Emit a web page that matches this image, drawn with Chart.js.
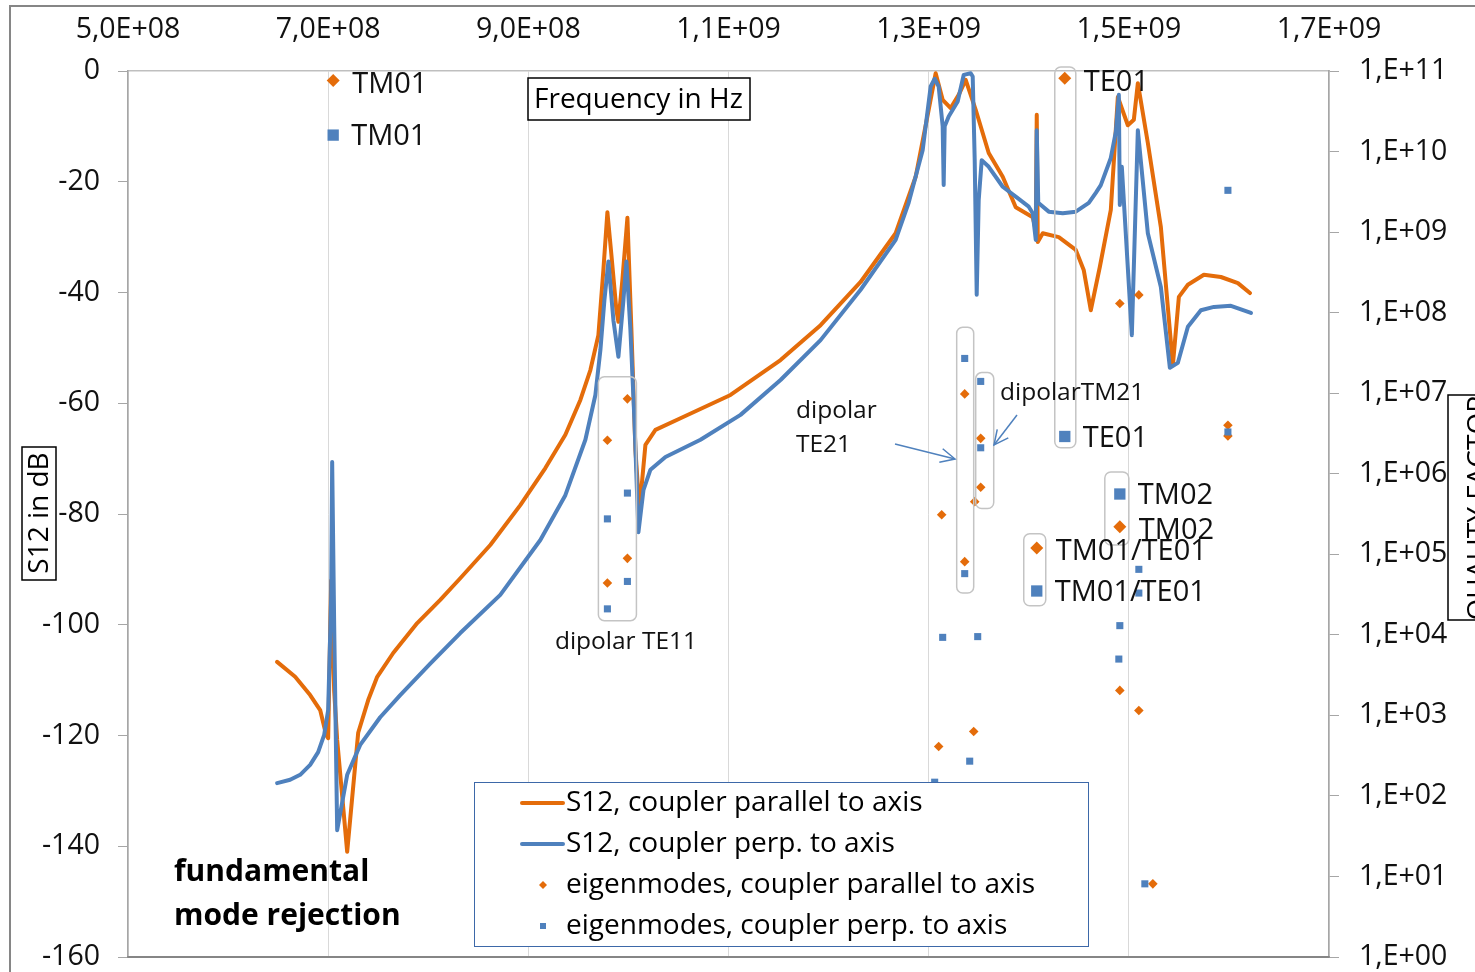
<!DOCTYPE html>
<html><head><meta charset="utf-8">
<script src="https://cdn.jsdelivr.net/npm/chart.js@4.4.0/dist/chart.umd.min.js"></script>
<style>html,body{margin:0;padding:0;background:#fff;overflow:hidden}canvas{display:block}</style>
</head><body>
<canvas id="c" width="1475" height="972" style="width:1475px;height:972px"></canvas>
<script>
// ---------- axis ticks ----------
const xTickValues = [5e8, 7e8, 9e8, 1.1e9, 1.3e9, 1.5e9, 1.7e9];
const xTickLabels = ['5,0E+08', '7,0E+08', '9,0E+08', '1,1E+09', '1,3E+09', '1,5E+09', '1,7E+09'];
const dbTickValues = [0, -20, -40, -60, -80, -100, -120, -140, -160];
const qTickValues = [1e0, 1e1, 1e2, 1e3, 1e4, 1e5, 1e6, 1e7, 1e8, 1e9, 1e10, 1e11];
const qTickLabels = ['1,E+00', '1,E+01', '1,E+02', '1,E+03', '1,E+04', '1,E+05', '1,E+06', '1,E+07', '1,E+08', '1,E+09', '1,E+10', '1,E+11'];

// ---------- S12, coupler parallel to axis (MHz, dB) ----------
const s12ParFreqMHz = [649, 667, 682, 692, 698, 700, 703, 706, 709, 719, 730, 740, 749, 765, 789, 812, 832, 862, 892, 917, 937, 952, 962, 970, 975, 979, 983, 988, 990, 994, 999, 1003, 1007, 1011, 1017, 1027, 1052, 1102, 1152, 1192, 1232, 1267, 1287, 1300, 1307, 1314, 1322, 1330, 1337, 1347, 1360, 1374, 1387, 1404, 1407, 1408, 1409, 1414, 1430, 1447, 1455, 1462, 1471, 1482, 1489, 1499, 1505, 1509, 1519, 1532, 1544, 1550, 1559, 1575, 1592, 1609, 1621];
const s12ParDb = [-106.7, -109.4, -112.7, -115.4, -119.9, -120.5, -92, -112, -120.8, -141.0, -119.5, -113.6, -109.4, -105.1, -99.7, -95.5, -91.6, -85.6, -78.4, -71.7, -65.7, -59.4, -54, -47.7, -35.9, -25.5, -33.2, -43.2, -45.3, -37.7, -26.5, -46.8, -68.4, -79.3, -67.5, -64.8, -62.7, -58.5, -52.2, -45.9, -38.1, -29.3, -19.1, -7, -0.4, -5.2, -6.7, -4.3, -1.6, -7, -14.8, -19.1, -24.6, -26.4, -28.7, -7.9, -30.9, -29.3, -30.0, -32.3, -36, -43.2, -35.4, -25.1, -4.7, -9.8, -8.8, -2.2, -13, -28.2, -53.1, -40.8, -38.6, -36.8, -37.2, -38.3, -40.1];

// ---------- S12, coupler perp. to axis (MHz, dB) ----------
const s12PerpFreqMHz = [649, 662, 672, 682, 690, 696, 700, 703, 704, 706, 709, 719, 732, 752, 772, 802, 832, 872, 912, 937, 957, 967, 972, 976, 980, 985, 990, 995, 998, 1002, 1006, 1010, 1015, 1022, 1037, 1072, 1112, 1152, 1192, 1232, 1267, 1280, 1294, 1302, 1306, 1310, 1314, 1315, 1316, 1320, 1329, 1335, 1342, 1344, 1346, 1348, 1350, 1353, 1360, 1374, 1387, 1400, 1404, 1407, 1408, 1409.5, 1420, 1434, 1447, 1460, 1467, 1472, 1482, 1487, 1490, 1491, 1493, 1503, 1509, 1519, 1532, 1541, 1549, 1559, 1572, 1585, 1602, 1622];
const s12PerpDb = [-128.6, -128.0, -127.1, -125.3, -123.0, -119.9, -115.4, -95, -70.6, -100, -137.1, -127.1, -121.7, -116.7, -112.7, -107.0, -101.5, -94.6, -84.7, -76.6, -66.6, -58.5, -50.4, -41.4, -34.4, -45, -51.6, -41.4, -34.4, -46.8, -63, -83.3, -75.7, -72, -69.7, -66.6, -62.1, -55.8, -48.6, -39.5, -30.5, -23.8, -14.3, -2.8, -1.4, -2.8, -10, -20.6, -10, -8.2, -5.5, -0.7, -0.4, -1, -16.1, -40.4, -23.3, -16.1, -17.3, -20.9, -22.7, -24.5, -25.7, -30.5, -10.7, -23.8, -25.4, -25.7, -25.4, -23.8, -22, -20.6, -15.7, -11.0, -4.3, -24.2, -17.3, -47.7, -10.7, -29.3, -39, -53.6, -52.7, -46.2, -43.2, -42.6, -42.4, -43.7];

// ---------- eigenmodes (MHz, quality factor) ----------
const eigParFreqMHz = [979, 999, 999, 979, 1313, 1336, 1336, 1346, 1352, 1352, 1310, 1345, 1491, 1510, 1491, 1510, 1524, 1599, 1599];
const eigParQ = [2.6e6, 8.5e6, 8.9e4, 4.4e4, 3.1e5, 9.8e6, 8.1e4, 4.5e5, 2.75e6, 6.8e5, 410, 630, 1.3e8, 1.66e8, 2040, 1150, 8.1, 4.0e6, 2.95e6];
const eigPerpFreqMHz = [979, 999, 999, 979, 1336, 1352, 1352, 1336, 1314, 1349, 1341, 1306, 1491, 1490, 1510, 1510, 1516, 1599, 1599];
const eigPerpQ = [2.75e5, 5.75e5, 4.6e4, 2.1e4, 2.7e7, 1.4e7, 2.1e6, 5.75e4, 9300, 9500, 270, 148, 1.3e4, 5000, 6.5e4, 3.3e4, 8.1, 3.3e6, 3.3e9];

// ---------- labelled modes ----------
const modeLabelsPar = ['TM01', 'TE01', 'TM02', 'TM01/TE01'];
const modeParFreqMHz = [705, 1436, 1491, 1408];
const modeParQ = [7.6e10, 8.1e10, 2.2e5, 1.2e5];
const modeLabelsPerp = ['TM01', 'TE01', 'TM02', 'TM01/TE01'];
const modePerpFreqMHz = [705, 1436, 1491, 1408];
const modePerpQ = [1.6e10, 2.9e6, 5.6e5, 3.5e4];

// ---------- grouping boxes (MHz range, Q range) ----------
const groupBoxes = [
  [970, 1008, 1.6e7, 1.5e4],
  [1328, 1345, 6.6e7, 3.3e4],
  [1347, 1365, 1.8e7, 3.7e5],
  [1426, 1447, 1.12e11, 2.1e6],
  [1476, 1500, 1.05e6, 1.3e5],
  [1395, 1417, 1.8e5, 2.3e4]
];

const ORANGE = '#E46C0A', BLUE = '#4F81BD';
const FONT = '"Open Sans", sans-serif';
const TICK = 28.5;
const pts = (fs, vs) => fs.map((f, i) => ({ x: f * 1e6, y: vs[i] }));

const decor = {
  id: 'decor',
  beforeDraw(chart) {
    const c = chart.ctx;
    c.save();
    c.fillStyle = '#fff';
    c.fillRect(0, 0, chart.width, chart.height);
    c.restore();
  },
  afterDatasetsDraw(chart) {
    const c = chart.ctx, xs = chart.scales.x, qs = chart.scales.q, ca = chart.chartArea;
    c.save();
    // grouping boxes
    c.strokeStyle = '#c4c4c4'; c.lineWidth = 1.5;
    groupBoxes.forEach(b => {
      const x0 = xs.getPixelForValue(b[0] * 1e6), x1 = xs.getPixelForValue(b[1] * 1e6);
      const y0 = qs.getPixelForValue(b[2]), y1 = qs.getPixelForValue(b[3]);
      c.beginPath(); c.roundRect(x0, y0, x1 - x0, y1 - y0, 6); c.stroke();
    });
    // mode labels
    c.fillStyle = '#111'; c.font = '29px ' + FONT; c.textBaseline = 'middle'; c.textAlign = 'left';
    const m4 = chart.getDatasetMeta(4).data, m5 = chart.getDatasetMeta(5).data;
    m4.forEach((p, i) => c.fillText(modeLabelsPar[i], p.x + 19, p.y + 4));
    m5.forEach((p, i) => c.fillText(modeLabelsPerp[i], p.x + 18, p.y + 2));
    // smaller annotations
    c.font = '24.5px ' + FONT;
    c.fillText('dipolar', 796, 411);
    c.fillText('TE21', 796, 445);
    c.fillText('dipolarTM21', 1000, 393);
    c.textAlign = 'center';
    c.fillText('dipolar TE11', 626, 642);
    // arrows
    c.strokeStyle = BLUE; c.lineWidth = 1.5;
    const arrow = (x0, y0, x1, y1) => {
      c.beginPath(); c.moveTo(x0, y0); c.lineTo(x1, y1); c.stroke();
      const a = Math.atan2(y1 - y0, x1 - x0), L = 16, s = 0.45;
      c.beginPath();
      c.moveTo(x1 - L * Math.cos(a - s), y1 - L * Math.sin(a - s));
      c.lineTo(x1, y1);
      c.lineTo(x1 - L * Math.cos(a + s), y1 - L * Math.sin(a + s));
      c.stroke();
    };
    arrow(895, 444, 955, 459);
    arrow(1017, 415, 994, 445);
    // fundamental mode rejection
    c.textAlign = 'left'; c.fillStyle = '#000';
    c.font = 'bold 30px ' + FONT;
    c.fillText('fundamental', 174, 872);
    c.fillText('mode rejection', 174, 916);
    // Frequency box
    c.lineWidth = 1.5; c.strokeStyle = '#000';
    c.fillStyle = '#fff'; c.fillRect(528, 78, 222, 42); c.strokeRect(528, 78, 222, 42);
    c.fillStyle = '#000'; c.font = '28px ' + FONT; c.textBaseline = 'middle';
    c.fillText('Frequency in Hz', 534, 100);
    // S12 in dB box
    c.fillStyle = '#fff'; c.fillRect(22, 447, 34, 133); c.strokeRect(22, 447, 34, 133);
    c.save(); c.translate(40, 513); c.rotate(-Math.PI / 2);
    c.fillStyle = '#000'; c.textAlign = 'center'; c.fillText('S12 in dB', 0, 0); c.restore();
    // QUALITY FACTOR box
    c.fillStyle = '#fff'; c.fillRect(1448, 395, 60, 225); c.strokeRect(1448, 395, 60, 225);
    c.save(); c.translate(1479, 508); c.rotate(-Math.PI / 2);
    c.fillStyle = '#000'; c.textAlign = 'center'; c.fillText('QUALITY FACTOR', 0, 0); c.restore();
    // legend
    c.fillStyle = '#fff'; c.fillRect(474, 782, 614, 164);
    c.strokeStyle = '#3d68a8'; c.lineWidth = 1; c.strokeRect(474.5, 782.5, 614, 164);
    const ds = chart.data.datasets;
    c.font = '28px ' + FONT; c.textAlign = 'left'; c.textBaseline = 'middle';
    [0, 1, 2, 3].forEach((k, r) => {
      const y = 803 + r * 41, d = ds[k];
      if (d.showLine) {
        c.strokeStyle = d.borderColor; c.lineWidth = 4; c.lineCap = 'round';
        c.beginPath(); c.moveTo(522, y); c.lineTo(563, y); c.stroke();
      } else {
        c.fillStyle = d.backgroundColor;
        c.beginPath();
        if (d.pointStyle === 'rectRot') { c.moveTo(543, y - 4); c.lineTo(547, y); c.lineTo(543, y + 4); c.lineTo(539, y); c.closePath(); }
        else { c.rect(540, y - 3, 6, 6); }
        c.fill();
      }
      c.fillStyle = '#000';
      c.fillText(d.label, 566, y);
    });
    // plot-area bottom edge and outer frame
    c.strokeStyle = '#868686'; c.lineWidth = 2;
    c.beginPath(); c.moveTo(ca.left, ca.bottom); c.lineTo(ca.right, ca.bottom); c.stroke();
    c.strokeRect(10, 6, 1600, 1000);
    c.restore();
  }
};

const noPad = s => { s.paddingTop = 0; s.paddingBottom = 0; };

new Chart(document.getElementById('c'), {
  type: 'scatter',
  data: {
    datasets: [
      { label: 'S12, coupler parallel to axis', data: pts(s12ParFreqMHz, s12ParDb), showLine: true, tension: 0, borderColor: ORANGE, backgroundColor: ORANGE, borderWidth: 4, pointRadius: 0, borderJoinStyle: 'round', borderCapStyle: 'round', yAxisID: 'y', order: 5 },
      { label: 'S12, coupler perp. to axis', data: pts(s12PerpFreqMHz, s12PerpDb), showLine: true, tension: 0, borderColor: BLUE, backgroundColor: BLUE, borderWidth: 4, pointRadius: 0, borderJoinStyle: 'round', borderCapStyle: 'round', yAxisID: 'y', order: 4 },
      { label: 'eigenmodes, coupler parallel to axis', data: pts(eigParFreqMHz, eigParQ), showLine: false, pointStyle: 'rectRot', pointRadius: 4.8, backgroundColor: ORANGE, borderWidth: 0, yAxisID: 'q', order: 3 },
      { label: 'eigenmodes, coupler perp. to axis', data: pts(eigPerpFreqMHz, eigPerpQ), showLine: false, pointStyle: 'rect', pointRadius: 5, backgroundColor: BLUE, borderWidth: 0, yAxisID: 'q', order: 2 },
      { label: 'modes parallel', data: pts(modeParFreqMHz, modeParQ), showLine: false, pointStyle: 'rectRot', pointRadius: 6.5, backgroundColor: ORANGE, borderWidth: 0, yAxisID: 'q', order: 1 },
      { label: 'modes perp', data: pts(modePerpFreqMHz, modePerpQ), showLine: false, pointStyle: 'rect', pointRadius: 8, backgroundColor: BLUE, borderWidth: 0, yAxisID: 'q', order: 0 }
    ]
  },
  options: {
    responsive: false, animation: false, events: [],
    layout: { padding: { left: 0, right: 0, top: 0, bottom: 15 } },
    plugins: { legend: { display: false }, tooltip: { enabled: false } },
    scales: {
      x: {
        type: 'linear', position: 'top', min: 5e8, max: 1.7e9,
        afterBuildTicks: s => { s.ticks = xTickValues.map(v => ({ value: v })); },
        afterFit: s => { s.height = 71; s.paddingLeft = 0; s.paddingRight = 0; },
        ticks: { callback: (v, i) => xTickLabels[i], font: { family: FONT, size: TICK }, color: '#111', padding: 24, maxRotation: 0, autoSkip: false },
        grid: { color: '#d9d9d9', lineWidth: 1, drawTicks: false },
        border: { color: '#bfbfbf', width: 1.5 }
      },
      y: {
        type: 'linear', position: 'left', min: -160, max: 0,
        afterBuildTicks: s => { s.ticks = dbTickValues.map(v => ({ value: v })); },
        afterFit: s => { s.width = 128; noPad(s); },
        ticks: { callback: v => String(v), font: { family: FONT, size: TICK }, color: '#111', padding: 18, autoSkip: false },
        grid: { drawOnChartArea: false, drawTicks: true, tickLength: 10, color: '#a6a6a6' },
        border: { color: '#a6a6a6', width: 1.5 }
      },
      q: {
        type: 'logarithmic', position: 'right', min: 1, max: 1e11,
        afterBuildTicks: s => { s.ticks = qTickValues.map(v => ({ value: v })); },
        afterFit: s => { s.width = 146; noPad(s); },
        ticks: { callback: (v, i) => qTickLabels[i], font: { family: FONT, size: TICK }, color: '#111', padding: 20, autoSkip: false },
        grid: { drawOnChartArea: false, drawTicks: true, tickLength: 10, color: '#a6a6a6' },
        border: { color: '#a6a6a6', width: 1.5 }
      }
    }
  },
  plugins: [decor]
});
</script>
</body></html>
